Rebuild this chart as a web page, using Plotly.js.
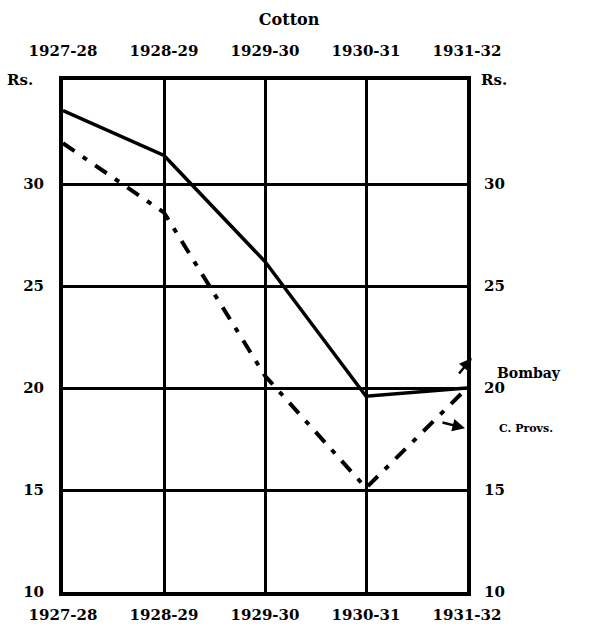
<!DOCTYPE html>
<html><head><meta charset="utf-8">
<script src="https://cdn.plot.ly/plotly-3.0.1.min.js"></script>
<style>body{margin:0;background:#fff}#c{width:590px;height:631px}</style>
</head><body><div id="c"></div>
<script>
const years = ["1927-28","1928-29","1929-30","1930-31","1931-32"];
const bombay = [33.6, 31.4, 26.2, 19.6, 20.0];
const cProvs = [32.0, 28.6, 20.6, 15.1, 20.0];
const yTicks = [10, 15, 20, 25, 30];
const pos = years.map((_, i) => i);

const F = {family: "DejaVu Serif", size: 15, color: "#000", weight: "bold"};
const traces = [
  {x: pos, y: bombay, mode: "lines", line: {color: "#000", width: 3.5}, name: "Bombay"},
  {x: pos, y: cProvs, mode: "lines", line: {color: "#000", width: 4, dash: "14px,10px,5px,10px"}, name: "C. Provs."},
  {x: pos, y: bombay, xaxis: "x2", yaxis: "y2", mode: "lines", line: {width: 0}, hoverinfo: "skip", showlegend: false}
];
const ax = {
  showline: true, linecolor: "#000", linewidth: 4, mirror: true,
  showgrid: true, gridcolor: "#000", gridwidth: 3, zeroline: false,
  ticks: "", tickfont: F, fixedrange: true
};
const layout = {
  width: 590, height: 631, showlegend: false,
  paper_bgcolor: "#fff", plot_bgcolor: "#fff",
  margin: {l: 63, r: 123, t: 80, b: 39},
  title: {text: "Cotton", font: {family: "DejaVu Serif", size: 16, color: "#000", weight: "bold"}, x: 0.49, xanchor: "center", y: 0.97, yanchor: "middle"},
  xaxis: Object.assign({}, ax, {range: [0, 4], tickvals: pos, ticktext: years, ticklabelstandoff: 6}),
  xaxis2: Object.assign({}, ax, {overlaying: "x", side: "top", range: [0, 4], tickvals: pos, ticktext: years, showgrid: false, ticklabelstandoff: 14}),
  yaxis: Object.assign({}, ax, {range: [10, 35.1], tickvals: yTicks, ticktext: yTicks.map(String), ticklabelstandoff: 12}),
  yaxis2: Object.assign({}, ax, {overlaying: "y", side: "right", range: [10, 35.1], tickvals: yTicks, ticktext: yTicks.map(String), showgrid: false, ticklabelstandoff: 10}),
  annotations: [
    {xref: "paper", yref: "paper", x: -0.07, y: 1.0, text: "Rs.", showarrow: false, font: F, xanchor: "right", yanchor: "middle"},
    {xref: "paper", yref: "paper", x: 1.03, y: 1.0, text: "Rs.", showarrow: false, font: F, xanchor: "left", yanchor: "middle"},
    {xref: "paper", yref: "paper", x: 1.07, y: 0.427, text: "Bombay", showarrow: false,
     font: {family: "DejaVu Serif", size: 14, color: "#000", weight: "bold"}, xanchor: "left", yanchor: "middle"},
    {xref: "paper", yref: "paper", x: 1.012, y: 0.457, text: "", showarrow: true, arrowhead: 2, arrowwidth: 2.5, arrowcolor: "#000",
     ax: -14, ay: 17, standoff: 0},
    {xref: "paper", yref: "paper", x: 1.075, y: 0.32, text: "C. Provs.", showarrow: false,
     font: {family: "DejaVu Serif", size: 11, color: "#000", weight: "bold"}, xanchor: "left", yanchor: "middle"},
    {xref: "paper", yref: "paper", x: 0.995, y: 0.32, text: "", showarrow: true, arrowhead: 2, arrowwidth: 2.5, arrowcolor: "#000",
     ax: -24, ay: -6, standoff: 0}
  ]
};
Plotly.newPlot("c", traces, layout, {staticPlot: true});
</script></body></html>
